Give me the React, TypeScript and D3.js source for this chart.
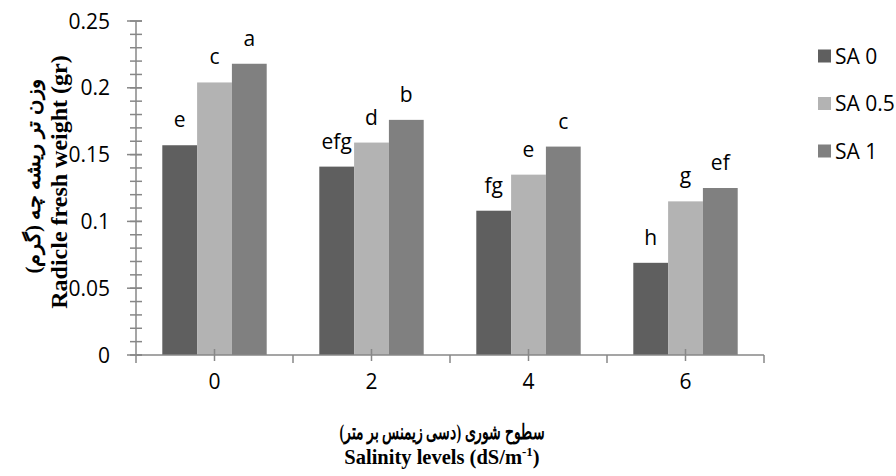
import React from "react";
import * as d3 from "d3";

const categories = ["0", "2", "4", "6"];
const seriesNames = ["SA 0", "SA 0.5", "SA 1"];
const sa0 = [0.157, 0.141, 0.108, 0.069];
const sa05 = [0.204, 0.159, 0.135, 0.115];
const sa1 = [0.218, 0.176, 0.156, 0.125];
const letters0 = ["e", "efg", "fg", "h"];
const letters05 = ["c", "d", "e", "g"];
const letters1 = ["a", "b", "c", "ef"];
const yTicks = [0, 0.05, 0.1, 0.15, 0.2, 0.25];

const colors = ["#5f5f5f", "#b3b3b3", "#808080"];
const axisColor = "#878787";
const labelFont = "'Open Sans', sans-serif";
const titleFont = "'Liberation Serif', 'Times New Roman', serif";

export default function App() {
  const width = 896;
  const height = 476;
  const m = { left: 136, top: 21, right: 132, bottom: 121 };

  const x = d3
    .scaleBand<string>()
    .domain(categories)
    .range([m.left, width - m.right])
    .paddingInner(0)
    .paddingOuter(0);
  const y = d3.scaleLinear().domain([0, 0.25]).range([height - m.bottom, m.top]);

  const groupW = x.bandwidth() * 0.665;
  const inner = d3
    .scaleBand<number>()
    .domain([0, 1, 2])
    .range([(x.bandwidth() - groupW) / 2, (x.bandwidth() + groupW) / 2]);

  const values = [sa0, sa05, sa1];
  const letters = [letters0, letters05, letters1];
  const minorTicks = d3.range(0, 0.2501, 0.01);
  const y0 = y(0);

  return (
    <svg width={width} height={height} style={{ position: "absolute", left: 0, top: 0 }}>
      <rect width={width} height={height} fill="#fff" />

      {/* bars */}
      {categories.map((c, ci) =>
        values.map((vals, si) => (
          <rect
            key={`${c}-${si}`}
            x={(x(c) ?? 0) + (inner(si) ?? 0)}
            y={y(vals[ci])}
            width={inner.bandwidth()}
            height={y0 - y(vals[ci])}
            fill={colors[si]}
          />
        ))
      )}

      {/* significance letters */}
      {categories.map((c, ci) =>
        values.map((vals, si) => (
          <text
            key={`l-${c}-${si}`}
            x={(x(c) ?? 0) + (inner(si) ?? 0) + inner.bandwidth() / 2}
            y={y(vals[ci]) - 18}
            textAnchor="middle"
            fontFamily={labelFont}
            fontSize={21}
            fill="#000"
          >
            {letters[si][ci]}
          </text>
        ))
      )}

      {/* y axis */}
      <line x1={m.left} x2={m.left} y1={y(0.25)} y2={y0} stroke={axisColor} strokeWidth={1.5} />
      {minorTicks.map((t) => (
        <line key={`mt-${t}`} x1={m.left - 6} x2={m.left + 6} y1={y(t)} y2={y(t)} stroke={axisColor} strokeWidth={1.5} />
      ))}
      {yTicks.map((t) => (
        <g key={`yt-${t}`}>
          <line x1={m.left - 9} x2={m.left + 6} y1={y(t)} y2={y(t)} stroke={axisColor} strokeWidth={1.5} />
          <text
            x={m.left - 26}
            y={y(t)}
            dy="0.36em"
            textAnchor="end"
            fontFamily={labelFont}
            fontSize={21}
            fill="#000"
          >
            {d3.format("")(t)}
          </text>
        </g>
      ))}

      {/* x axis */}
      <line x1={m.left} x2={width - m.right} y1={y0} y2={y0} stroke={axisColor} strokeWidth={1.5} />
      {categories.map((c) => (
        <line key={`b-${c}`} x1={x(c) ?? 0} x2={x(c) ?? 0} y1={y0} y2={y0 + 8} stroke={axisColor} strokeWidth={1.5} />
      ))}
      <line x1={width - m.right} x2={width - m.right} y1={y0} y2={y0 + 8} stroke={axisColor} strokeWidth={1.5} />
      {categories.map((c) => {
        const cx = (x(c) ?? 0) + x.bandwidth() / 2;
        return (
          <g key={`xt-${c}`}>
            <line x1={cx} x2={cx} y1={y0 - 6} y2={y0 + 6} stroke={axisColor} strokeWidth={1.5} />
            <text x={cx} y={y0 + 34} textAnchor="middle" fontFamily={labelFont} fontSize={21} fill="#000">
              {c}
            </text>
          </g>
        );
      })}

      {/* axis titles */}
      <text
        transform={`translate(67, 182) rotate(-90)`}
        textAnchor="middle"
        fontFamily={titleFont}
        fontWeight="bold"
        fontSize={24}
        fill="#000"
      >
        Radicle fresh weight (gr)
      </text>
      <text
        transform={`translate(40, 176) rotate(-90)`}
        textAnchor="middle"
        fontFamily={titleFont}
        fontWeight="bold"
        fontSize={20}
        fill="#000"
        direction="rtl"
        textLength={195}
        lengthAdjust="spacingAndGlyphs"
      >
        وزن تر ریشه چه (گرم)
      </text>
      <text
        x={442}
        y={439}
        textAnchor="middle"
        fontFamily={titleFont}
        fontWeight="bold"
        fontSize={21}
        fill="#000"
        direction="rtl"
        textLength={205}
        lengthAdjust="spacingAndGlyphs"
      >
        سطوح شوری (دسی زیمنس بر متر)
      </text>
      <text x={442} y={464} textAnchor="middle" fontFamily={titleFont} fontWeight="bold" fontSize={20.5} fill="#000">
        Salinity levels (dS/m
        <tspan fontSize={13} dy={-8}>-1</tspan>
        <tspan dy={8}>)</tspan>
      </text>

      {/* legend */}
      {seriesNames.map((s, i) => (
        <g key={s} transform={`translate(818, ${56 + i * 47.5})`}>
          <rect x={0} y={-6.5} width={13} height={13} fill={colors[i]} />
          <text x={17} y={0} dy="0.36em" fontFamily={labelFont} fontSize={21} fill="#000">
            {s}
          </text>
        </g>
      ))}
    </svg>
  );
}
